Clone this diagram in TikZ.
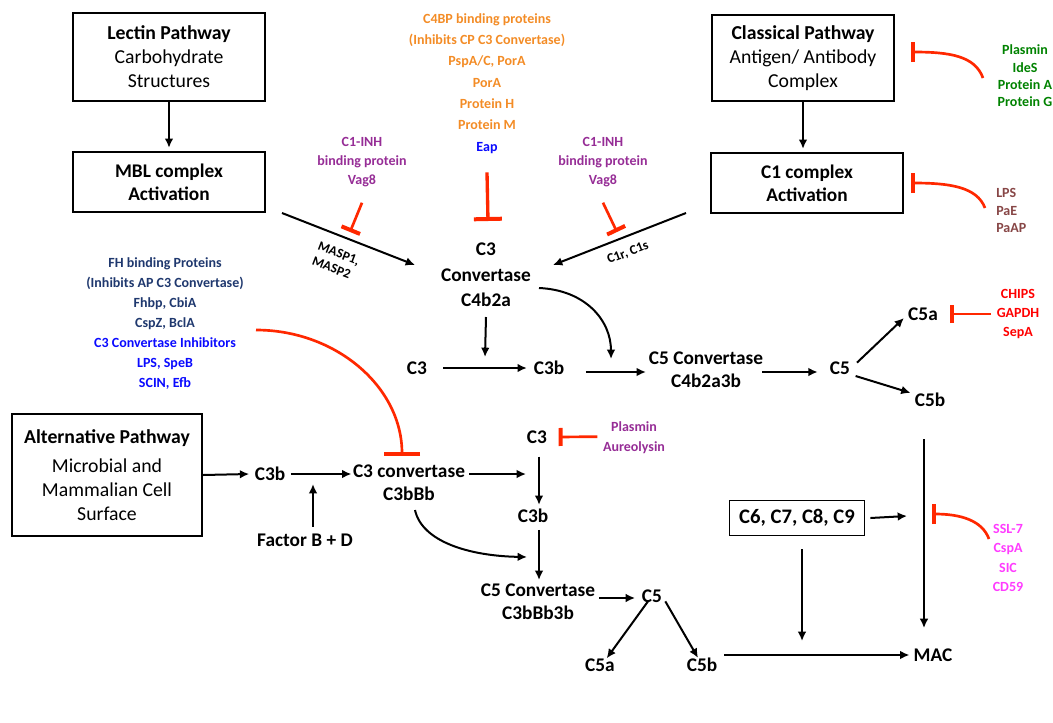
\documentclass[tikz,border=0pt]{standalone}
\usepackage{fontspec}
\setmainfont{Carlito}
\usepackage{tikz}
\usetikzlibrary{arrows.meta}

\definecolor{inhred}{RGB}{255,40,0}
\definecolor{cbporange}{RGB}{243,140,38}
\definecolor{eapblue}{RGB}{10,10,255}
\definecolor{vagpurple}{RGB}{150,45,150}
\definecolor{fhnavy}{RGB}{31,56,110}
\definecolor{iggreen}{RGB}{0,130,0}
\definecolor{lpsbrown}{RGB}{135,70,70}
\definecolor{chipsred}{RGB}{255,0,0}
\definecolor{cdpink}{RGB}{255,60,255}

\begin{document}
\begin{tikzpicture}[x=0.75pt,y=-0.75pt,>={Latex[length=7pt,width=6.5pt]},
  flow/.style={->,line width=1.5pt},
  blocker/.style={draw=inhred,line width=2pt,-{Bar[width=#1,line width=3pt]}},
  blocker/.default=15pt,
  pathbox/.style={draw,line width=1.5pt,align=center,inner sep=0pt,font=\fontsize{14.8}{18}\selectfont},
  actbox/.style={draw,line width=2.2pt,align=center,inner sep=0pt,font=\fontsize{14.5}{17}\selectfont\bfseries},
  mol/.style={align=center,inner sep=1pt,font=\fontsize{14.5}{17}\selectfont\bfseries},
  note/.style={align=center,inner sep=0pt,font=\fontsize{10.5}{#1}\selectfont\bfseries},
  protease/.style={align=left,inner sep=0pt,font=\fontsize{10}{12}\selectfont\bfseries}]
\useasboundingbox (0,0) rectangle (1053,722);

% pathway boxes
\node[pathbox,minimum width=144pt,minimum height=66pt] (lectin) at (169,57) {\textbf{Lectin Pathway}\\Carbohydrate\\Structures};
\node[actbox,minimum width=144pt,minimum height=45pt] (mbl) at (169,182) {MBL complex\\Activation};
\node[pathbox,minimum width=136pt,minimum height=64pt] (classical) at (803,58) {\textbf{Classical Pathway}\\Antigen/ Antibody\\Complex};
\node[actbox,minimum width=144pt,minimum height=45pt] (cone) at (807,183) {C1 complex\\Activation};
\node[pathbox,minimum width=142.5pt,minimum height=92pt] (alt) at (107,475) {\textbf{Alternative Pathway}\\[4pt]Microbial and\\Mammalian Cell\\Surface};
\node[draw,line width=1.1pt,minimum width=101pt,minimum height=26pt,inner sep=0pt,font=\fontsize{15.5}{18}\selectfont\bfseries] (csix) at (797,518) {C6, C7, C8, C9};

% components
\node[mol] (ctconv) at (486,275) {C3\\[2pt]Convertase\\[2pt]C4b2a};
\node[mol] (cthree) at (417,368) {C3};
\node[mol] (cthreeb) at (549,368) {C3b};
\node[mol] (cfconv) at (706,370) {C5 Convertase\\C4b2a3b};
\node[mol] (cfive) at (840,368) {C5};
\node[mol] (cfivea) at (923,314) {C5a};
\node[mol] (cfiveb) at (930,400) {C5b};
\node[mol] (altcthreeb) at (270,474) {C3b};
\node[mol] (altconv) at (409,483) {C3 convertase\\C3bBb};
\node[mol] (factor) at (305,540) {Factor B + D};
\node[mol] (lowcthree) at (537,437) {C3};
\node[mol] (lowcthreeb) at (533,516) {C3b};
\node[mol] (lowcfconv) at (538,602) {C5 Convertase\\C3bBb3b};
\node[mol] (lowcfive) at (652,596) {C5};
\node[mol] (lowcfivea) at (600,665) {C5a};
\node[mol] (lowcfiveb) at (702,665) {C5b};
\node[mol] (mac) at (933,655) {MAC};

% inhibitors
\node[note=16pt,text=cbporange] (cfourbp) at (487,83.5) {C4BP binding proteins\\(Inhibits CP C3 Convertase)\\PspA/C, PorA\\PorA\\Protein H\\Protein M\\\textcolor{eapblue}{Eap}};
\node[note=14pt,text=vagpurple] (vagleft) at (362,162) {C1-INH\\binding protein\\Vag8};
\node[note=14pt,text=vagpurple] (vagright) at (603,162) {C1-INH\\binding protein\\Vag8};
\node[note=14.9pt,text=fhnavy] (fhbp) at (165,323.5) {FH binding Proteins\\(Inhibits AP C3 Convertase)\\Fhbp, CbiA\\CspZ, BclA\\\textcolor{eapblue}{C3 Convertase Inhibitors}\\\textcolor{eapblue}{LPS, SpeB}\\\textcolor{eapblue}{SCIN, Efb}};
\node[note=13pt,text=iggreen] (igg) at (1025,76) {Plasmin\\IdeS\\Protein A\\Protein G};
\node[note=13pt,text=lpsbrown,align=left,anchor=west] (lps) at (996,210.5) {LPS\\PaE\\PaAP};
\node[note=14pt,text=chipsred] (chips) at (1018,314) {CHIPS\\GAPDH\\SepA};
\node[note=15pt,text=vagpurple] (aureo) at (634,438) {Plasmin\\Aureolysin};
\node[note=14.5pt,text=cdpink] (ssl) at (1008,558) {SSL-7\\CspA\\SIC\\CD59};

% protease labels
\node[protease,rotate=-21] (masp) at (336,261) {MASP1,\\MASP2};
\node[protease,rotate=21] (cones) at (628,253) {C1r, C1s};

% free ends
\coordinate (maspA) at (282,213);
\coordinate (maspB) at (415,265);
\coordinate (conesA) at (686,213);
\coordinate (conesB) at (553,265);
\coordinate (cleave) at (485,357);
\coordinate (bendA) at (539,288);
\coordinate (bendB) at (611,359);
\coordinate (altcut) at (526,474);
\coordinate (lowbendA) at (415,510);
\coordinate (lowbendB) at (527,557);
\coordinate (macjoin) at (907,516);
\coordinate (macin) at (802,641);
\coordinate (maclineA) at (924,439);
\coordinate (maclineB) at (924,628);

% lectin and classical
\draw[flow,shorten >=2pt] (lectin.south) -- (mbl.north);
\draw[flow,shorten >=2pt] (classical.south) -- (classical.south |- cone.north);
\draw[flow] (maspA) -- (maspB);
\draw[flow] (conesA) -- (conesB);
\draw[flow] (ctconv.south |- 0,317) -- (cleave);
\draw[flow] ([xshift=11pt]cthree.east) -- ([xshift=-4pt]cthreeb.west);
\draw[flow] ([xshift=15pt]cthreeb.east |- 0,372) -- ([xshift=-1pt]cfconv.west |- 0,372);
\draw[flow] (bendA) .. controls (585,290) and (611,320) .. (bendB);
\draw[flow] ([xshift=-2pt]cfconv.east |- 0,372) -- ([xshift=-8pt]cfive.west |- 0,372);
\draw[flow] ([xshift=4pt,yshift=-2pt]cfive.north east) -- ([xshift=-2pt,yshift=3pt]cfivea.south west);
\draw[flow] ([xshift=3pt,yshift=0pt]cfive.south east) -- ([xshift=-2pt,yshift=-1pt]cfiveb.north west);

% alternative
\draw[flow] (alt.east) -- ([xshift=-3pt]altcthreeb.west);
\draw[flow] ([xshift=3pt]altcthreeb.east) -- (altconv.west |- altcthreeb.east);
\draw[flow] ([yshift=4pt]factor.north -| 313,0) -- (313,484);
\draw[flow] ([xshift=2pt]altconv.east |- altcthreeb.east) -- (altcut);
\draw[flow] (lowcthreeb.north -| 539,0) ++(0,-51) -- ([yshift=2pt]lowcthreeb.north -| 539,0);
\draw[flow] ([yshift=-4pt]lowcthreeb.south -| 539,0) -- ([yshift=2pt]lowcfconv.north -| 539,0);
\draw[flow] (lowbendA) .. controls (422,542) and (470,556) .. (lowbendB);
\draw[flow] ([xshift=2pt]lowcfconv.east |- 0,598) -- ([xshift=-4pt]lowcfive.west |- 0,598);
\draw[flow] ([xshift=-3pt,yshift=2pt]lowcfive.south) -- ([xshift=5pt,yshift=-1pt]lowcfivea.north);
\draw[flow] ([xshift=10pt,yshift=2pt]lowcfive.south) -- ([xshift=-3pt,yshift=-1pt]lowcfiveb.north);

% terminal pathway
\draw[flow] ([xshift=4pt]lowcfiveb.east |- mac.west) -- ([xshift=-2pt]mac.west);
\draw[flow] ([xshift=4pt]csix.east) -- (macjoin);
\draw[flow] ([yshift=-10pt]csix.south -| macin) -- (macin);
\draw[->,line width=1.2pt] (maclineA) -- (maclineB);

% inhibition
\draw[blocker=21pt,line width=2.5pt] ([yshift=-14pt]cfourbp.south) -- (488,221);
\draw[blocker] ([yshift=-12pt]vagleft.south) -- (350,232);
\draw[blocker] ([yshift=-12pt]vagright.south) -- (617,232);
\draw[blocker] (983,78) .. controls (975,56) and (950,52) .. (911,52);
\draw[blocker] (985,208) .. controls (977,187) and (950,183) .. (911,183);
\draw[blocker=13.5pt] ([xshift=-4pt]chips.west) -- ([xshift=8pt]cfivea.east);
\draw[blocker=27pt] (256,330) .. controls (336,330) and (402,387) .. (402,456);
\draw[blocker=13.5pt] ([xshift=-4pt,yshift=1pt]aureo.west) -- ([xshift=7.5pt]lowcthree.east);
\draw[blocker] (989,539) .. controls (982,520) and (960,514) .. (932,514);
\end{tikzpicture}
\end{document}
